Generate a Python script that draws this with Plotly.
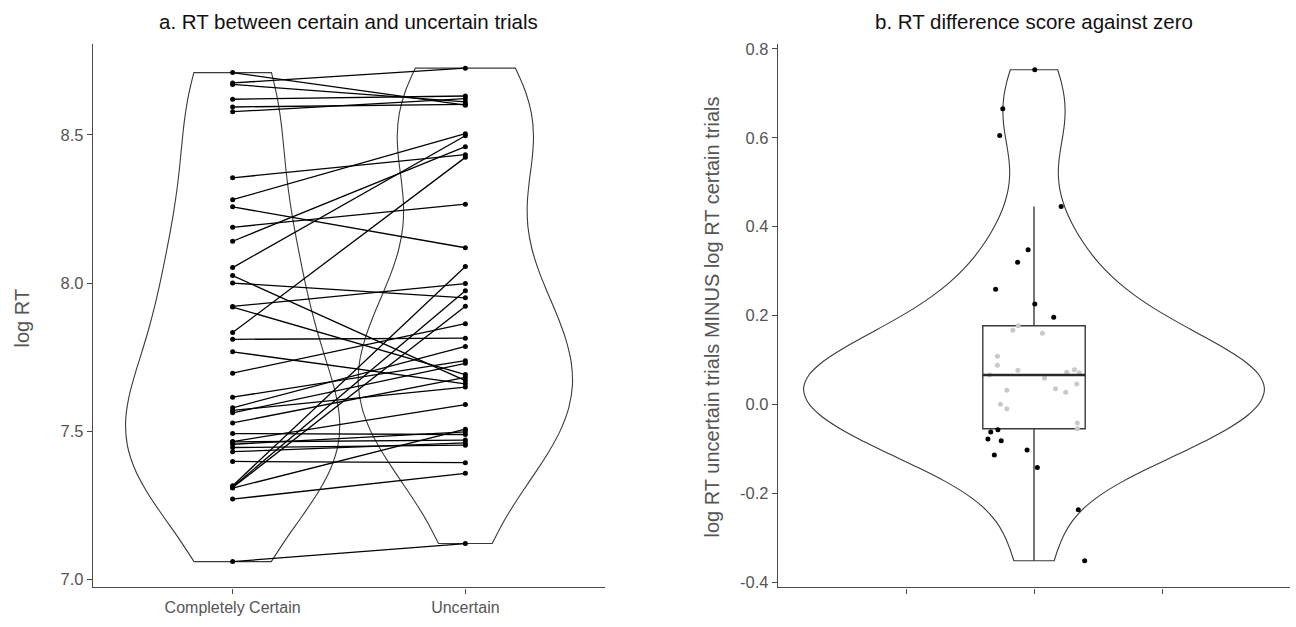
import numpy as np
import plotly.graph_objects as go

# ---------------- data ----------------
# Panel a: log RT per participant
certain = [8.710, 8.675, 8.670, 8.620, 8.594, 8.578, 8.355, 8.281, 8.257, 8.188,
           8.141, 8.052, 8.025, 8.000, 7.921, 7.919, 7.833, 7.810, 7.768, 7.696,
           7.615, 7.579, 7.570, 7.562, 7.528, 7.492, 7.465, 7.464, 7.456, 7.445,
           7.431, 7.398, 7.316, 7.312, 7.310, 7.308, 7.271, 7.060]
uncertain = [8.600, 8.725, 8.611, 8.631, 8.603, 8.622, 8.433, 8.504, 8.119, 8.266,
             8.460, 8.497, 7.671, 7.950, 7.998, 7.691, 8.424, 7.814, 7.660, 7.863,
             7.738, 7.786, 7.649, 7.729, 7.682, 7.489, 7.590, 7.470, 7.498, 7.453,
             7.461, 7.394, 8.056, 7.974, 7.922, 7.507, 7.358, 7.121]
conditions = ["Completely Certain", "Uncertain"]

# Panel b: difference scores (uncertain - certain) and their jitter offsets
diff_scores = [0.753, 0.665, 0.605, 0.445, 0.348, 0.320, 0.259, 0.226, 0.196, 0.177,
               0.167, 0.160, 0.108, 0.088, 0.077, 0.066, 0.072, 0.078, 0.071, 0.059,
               0.032, 0.035, 0.027, 0.046, 0.000, -0.010, -0.042, -0.055, -0.062, -0.057,
               -0.078, -0.082, -0.103, -0.114, -0.142, -0.237, -0.352]
jitter = [0.003, -0.122, -0.134, 0.106, -0.023, -0.064, -0.150, 0.003, 0.077, -0.062,
          -0.083, 0.033, -0.143, -0.143, -0.063, -0.173, 0.128, 0.158, 0.177, 0.041,
          -0.106, 0.084, 0.124, 0.167, -0.131, -0.106, 0.169, 0.169, -0.169, -0.141,
          -0.180, -0.128, -0.027, -0.155, 0.013, 0.173, 0.198]

left_ticks = [7.0, 7.5, 8.0, 8.5]
right_ticks = [-0.4, -0.2, 0.0, 0.2, 0.4, 0.6, 0.8]

# ---------------- styling ----------------
FONT = "Liberation Sans"
OUTLINE = "#3a3a3a"
TICKCOL = "#555555"
AXCOL = "#4a4a4a"
BOX_WIDTH = 0.4

fig = go.Figure()

# Panel a violins
for xpos, vals in zip([1, 2], [certain, uncertain]):
    fig.add_trace(go.Violin(
        x=[xpos] * len(vals), y=vals, xaxis="x", yaxis="y",
        spanmode="hard", scalemode="width", width=0.92,
        line=dict(color=OUTLINE, width=1.1), fillcolor="rgba(0,0,0,0)",
        points=False, box_visible=False, meanline_visible=False,
        showlegend=False, hoverinfo="skip"))

# Panel a connecting lines + points
lx, ly = [], []
for c, u in zip(certain, uncertain):
    lx += [1, 2, None]
    ly += [c, u, None]
fig.add_trace(go.Scatter(
    x=lx, y=ly, xaxis="x", yaxis="y", mode="lines+markers",
    line=dict(color="black", width=1.3), marker=dict(color="black", size=5),
    showlegend=False, hoverinfo="skip", connectgaps=False))

# Panel b violin
fig.add_trace(go.Violin(
    x=[0] * len(diff_scores), y=diff_scores, xaxis="x2", yaxis="y2",
    spanmode="hard", scalemode="width", width=1.8,
    line=dict(color=OUTLINE, width=1.1), fillcolor="rgba(0,0,0,0)",
    points=False, box_visible=False, meanline_visible=False,
    showlegend=False, hoverinfo="skip"))

# Panel b box; outliers hidden, whiskers at 1.5 IQR
fig.add_trace(go.Box(
    x=[0] * len(diff_scores), y=diff_scores, xaxis="x2", yaxis="y2",
    width=BOX_WIDTH, boxpoints="outliers", quartilemethod="inclusive",
    marker=dict(color="rgba(0,0,0,0)", size=1, line=dict(width=0)),
    line=dict(color=OUTLINE, width=1.4), fillcolor="rgba(255,255,255,0)",
    whiskerwidth=0, showlegend=False, hoverinfo="skip"))

# Panel b jittered points: those covered by the (translucent) box look faded
q1, med, q3 = np.percentile(diff_scores, [25, 50, 75])
pt_colors = ["#c9c9c9" if (q1 <= v <= q3 and abs(j) <= BOX_WIDTH / 2) else "black"
             for v, j in zip(diff_scores, jitter)]
fig.add_trace(go.Scatter(
    x=jitter, y=diff_scores, xaxis="x2", yaxis="y2", mode="markers",
    marker=dict(color=pt_colors, size=5), showlegend=False, hoverinfo="skip"))

# Thicker median bar (as in ggplot boxplot)
fig.add_trace(go.Scatter(
    x=[-BOX_WIDTH / 2, BOX_WIDTH / 2], y=[med, med], xaxis="x2", yaxis="y2",
    mode="lines", line=dict(color="#2a2a2a", width=2.6),
    showlegend=False, hoverinfo="skip"))

axis_common = dict(showline=True, linecolor=AXCOL, linewidth=1.3, ticks="outside",
                   ticklen=5, tickcolor=AXCOL, tickwidth=1.1, showgrid=False,
                   zeroline=False)

y_dom = [1 - 590 / 627, 1 - 40 / 627]
fig.update_layout(
    width=1296, height=627, margin=dict(l=0, r=0, t=0, b=0),
    plot_bgcolor="white", paper_bgcolor="white",
    violinmode="overlay", boxmode="overlay",
    xaxis=dict(domain=[93 / 1296, 605 / 1296], range=[0.4, 2.6],
               tickvals=[1, 2], ticktext=conditions, anchor="y",
               tickfont=dict(family=FONT, size=16, color=TICKCOL), **axis_common),
    yaxis=dict(domain=y_dom, range=[6.973, 8.808], tickvals=left_ticks,
               ticktext=[f"{t:.1f}" for t in left_ticks], anchor="x",
               tickfont=dict(family=FONT, size=16.5, color=TICKCOL), **axis_common),
    xaxis2=dict(domain=[778 / 1296, 1290 / 1296], range=[-1, 1],
                tickvals=[-0.5, 0, 0.5], showticklabels=False, anchor="y2", **axis_common),
    yaxis2=dict(domain=y_dom, range=[-0.412, 0.812], tickvals=right_ticks,
                ticktext=[f"{t:.1f}" for t in right_ticks], anchor="x2",
                tickfont=dict(family=FONT, size=16.5, color=TICKCOL), **axis_common),
)

TITLE_FONT = dict(family=FONT, size=20.5, color="#111111")
AXT_FONT = dict(family=FONT, size=20, color=TICKCOL)
ann_specs = [
    ("a. RT between certain and uncertain trials", 349, 18, 0, TITLE_FONT),
    ("b. RT difference score against zero", 1034, 18, 0, TITLE_FONT),
    ("log RT", 22, 318, -90, AXT_FONT),
    ("log RT uncertain trials MINUS log RT certain trials", 712, 317, -90, AXT_FONT),
]
fig.update_layout(annotations=[
    dict(text=t, x=px / 1296, y=1 - py / 627, xref="paper", yref="paper",
         xanchor="center", yanchor="middle", textangle=ang, showarrow=False, font=f)
    for t, px, py, ang, f in ann_specs
])

fig.write_html("out.html")
